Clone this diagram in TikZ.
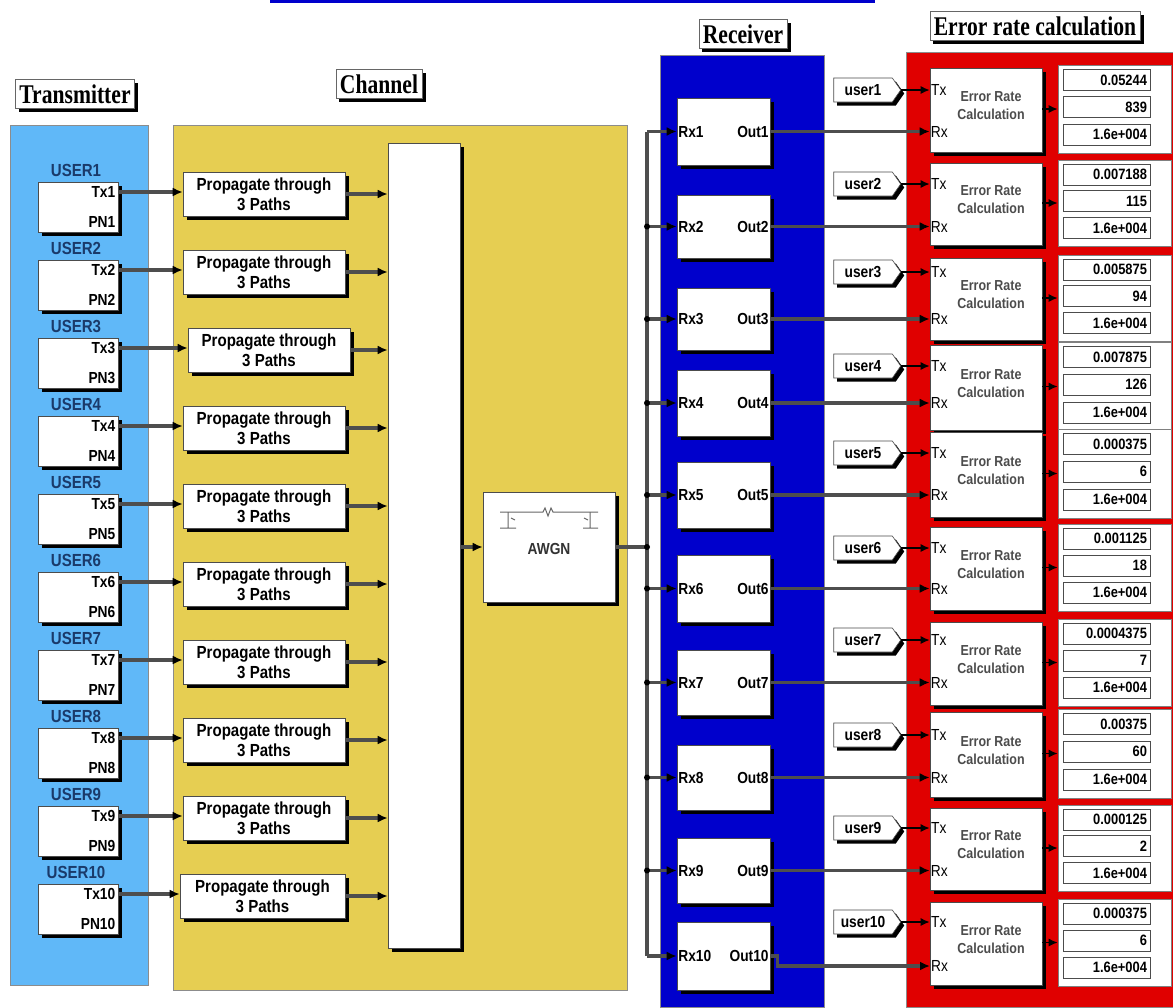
\documentclass[tikz,border=0pt]{standalone}
\usepackage{graphicx}
\usepackage{fontspec}
\setmainfont{Liberation Serif}[FakeStretch=0.8]
\setsansfont{Liberation Sans}[FakeStretch=0.86]
\usetikzlibrary{shadows,shapes.symbols,arrows.meta}
\definecolor{txblue}{HTML}{60B8F8}
\definecolor{chyellow}{HTML}{E6CE52}
\definecolor{rxblue}{HTML}{0000CC}
\definecolor{erred}{HTML}{E00000}
\definecolor{usrcol}{HTML}{1A3A6A}
\definecolor{wirecol}{HTML}{4E4E4E}
\begin{document}
\begin{tikzpicture}[x=1pt,y=-1pt,
  shad/.style={drop shadow={shadow xshift=3.5pt,shadow yshift=-3.5pt,fill=black,opacity=1}},
  blk/.style={draw=black!70,fill=white,line width=0.6pt,inner sep=0pt,shad},
  panel/.style={draw=black!45,line width=0.6pt},
  ttl/.style={draw=black!60,fill=white,line width=0.6pt,inner xsep=4pt,inner ysep=5pt,shad,font=\bfseries\fontsize{27}{30}\selectfont},
  lbl/.style={font=\sffamily\bfseries\fontsize{16}{18}\selectfont,inner sep=1.5pt},
  usr/.style={font=\sffamily\bfseries\fontsize{17.5}{19}\selectfont,text=usrcol,inner sep=1pt},
  erl/.style={font=\sffamily\bfseries\fontsize{14.5}{18}\selectfont,text=black!70,inner sep=1pt},
  portl/.style={font=\sffamily\fontsize{16}{18}\selectfont,anchor=west,inner sep=1pt},
  wire/.style={draw=wirecol,line width=3.2pt},
  arr/.style={wire,-{Latex[length=10pt,width=9pt,color=black]}},
  thinarr/.style={draw=black,line width=1.4pt,-{Latex[length=9pt,width=8pt]}},
  tag/.style={signal,signal to=east,signal pointer angle=110,draw=black!70,fill=white,line width=0.6pt,minimum width=67pt,minimum height=24pt,inner sep=1pt,shad,font=\sffamily\bfseries\fontsize{16}{18}\selectfont},
  disp/.style={draw=black!50,fill=white,line width=0.6pt,inner sep=0pt},
  fld/.style={draw=black!70,fill=white,line width=0.6pt,minimum height=21pt,inner xsep=3pt,inner ysep=0pt,text width=81pt,align=right,font=\sffamily\bfseries\fontsize{15}{17}\selectfont},
]
\useasboundingbox (0,0) rectangle (1173,1007);
\fill[white] (0,0) rectangle (1173,1007);
% top blue line
\fill[rxblue] (270,0) rectangle (875,3);
% panels
\filldraw[panel,fill=txblue] (10,125) rectangle (148,985);
\filldraw[panel,fill=chyellow] (173,125) rectangle (627,990);
\filldraw[panel,fill=rxblue] (660,55) rectangle (824,1007);
\filldraw[panel,fill=erred] (906,52) rectangle (1173,1007);
% titles
\node[ttl] (tTx) at (75,94) {Transmitter};
\node[ttl] (tCh) at (379,84) {Channel};
\node[ttl] (tRx) at (743,34) {Receiver};
\node[ttl] (tEr) at (1035,26) {Error rate calculation};
% mux
\node[blk,minimum width=72pt,minimum height=805pt] (mux) at (424,545.5) {};
% transmitters and propagation blocks
\foreach \i/\px/\pw in {1/264/162,2/264/162,3/269/162,4/264/162,5/264/162,6/264/162,7/264/162,8/264/162,9/264/162,10/262.5/165}{
  \pgfmathsetmacro\ty{182+(\i-1)*78}
  \node[blk,minimum width=80pt,minimum height=50pt] (tx\i) at (78,\ty+25) {};
  \node[usr,anchor=south] (un\i) at (76,\ty-4) {USER\i};
  \node[lbl,anchor=east] (txl\i) at (117,\ty+10) {Tx\i};
  \node[lbl,anchor=east] (pnl\i) at (117,\ty+40) {PN\i};
  \coordinate (txo\i) at (118,\ty+10);
  \node[blk,minimum width=\pw pt,minimum height=44pt,align=center,font=\sffamily\bfseries\fontsize{17.5}{20}\selectfont] (pr\i) at (\px,\ty+12) {Propagate through\\3 Paths};
  \draw[arr] (txo\i) -- (txo\i -| pr\i.west);
  \draw[arr] (pr\i.east) -- (pr\i.east -| mux.west);
}
% AWGN
\node[blk,minimum width=132pt,minimum height=110pt] (awgn) at (549,547) {};
\node[lbl,font=\sffamily\bfseries\fontsize{16}{18}\selectfont,text=black!80] (awgnt) at (549,549) {AWGN};
\draw[black!60,line width=1pt] (500,512) -- (543,512) -- (545,508) -- (548,516) -- (551,508) -- (553,512) -- (598,512);
\draw[black!60,line width=1pt] (508,512) -- (508,528) (500,528) -- (516,528) (511,518) -- (515,520);
\draw[black!60,line width=1pt] (590,512) -- (590,528) (583,528) -- (598,528) (584,518) -- (588,520);
\draw[arr] (mux.east |- awgn.west) -- (awgn.west);
\coordinate (bus) at (647,547);
\draw[wire] (awgn.east) -- (bus);
% receivers
\foreach \i/\a/\b in {1/98/165,2/195/258,3/288/350,4/370/436,5/462/528,6/555/622,7/650/715,8/745/810,9/838/903,10/922/990}{
  \pgfmathsetmacro\h{\b-\a}
  \pgfmathsetmacro\c{(\a+\b)/2}
  \node[blk,minimum width=93pt,minimum height=\h pt] (rx\i) at (723.5,\c) {};
  \node[lbl,anchor=west] (rxl\i) at (rx\i.west) {Rx\i};
  \node[lbl,anchor=east] (oul\i) at (rx\i.east) {Out\i};
}
\draw[wire] (rx1.west -| bus) -- (rx10.west -| bus);
\foreach \i in {1,...,10}{
  \draw[arr] (rx\i.west -| bus) -- (rx\i.west);
}
\foreach \i in {2,...,9}{
  \fill[black] (rx\i.west -| bus) circle (3pt);
}
\fill[black] (bus) circle (3pt);
% error rate blocks
\foreach \i/\a/\b/\tx/\va/\vb in {1/68/152/90/0.05244/839,2/163/245/184/0.007188/115,3/258/340/272/0.005875/94,4/345/430/366/0.007875/126,5/432/517/453/0.000375/6,6/527/610/548/0.001125/18,7/622/705/640/0.0004375/7,8/712/797/735/0.00375/60,9/808/890/828/0.000125/2,10/902/985/922/0.000375/6}{
  \pgfmathsetmacro\h{\b-\a}
  \pgfmathsetmacro\c{(\a+\b)/2}
  \node[blk,minimum width=112pt,minimum height=\h pt] (er\i) at (986,\c) {};
  \node[erl,align=center] (ert\i) at (991,\c-4) {Error Rate\\Calculation};
  \node[portl] (etx\i) at (930,\tx) {Tx};
  \node[tag] (tg\i) at (863,\tx) {user\i};
  \draw[thinarr] (tg\i.east) -- (tg\i.east -| er\i.west);
  \pgfmathsetmacro\pt{\a-3}
  \pgfmathsetmacro\ph{\h+4}
  \pgfmathsetmacro\pc{\pt+\ph/2}
  \node[disp,minimum width=113pt,minimum height=\ph pt] (dp\i) at (1114.5,\pc) {};
  \node[fld] (fa\i) at (1106.5,\pt+0.17*\ph) {\va};
  \node[fld] (fb\i) at (1106.5,\pt+0.48*\ph) {\vb};
  \node[fld] (fc\i) at (1106.5,\pt+0.79*\ph) {1.6e+004};
  \draw[thinarr] (er\i.east |- dp\i.west) -- (dp\i.west);
}
% receiver to error-rate connections
\foreach \i in {1,...,9}{
  \coordinate (erx\i) at (rx\i.east -| er\i.west);
  \node[portl] (erl\i) at (erx\i) {Rx};
  \draw[arr] (rx\i.east) -- (erx\i);
}
\coordinate (erx10) at (930,966);
\node[portl] (erl10) at (erx10) {Rx};
\draw[arr] (rx10.east) -- ++(7,0) -- ++(0,10) -- (erx10);
\end{tikzpicture}
\end{document}
